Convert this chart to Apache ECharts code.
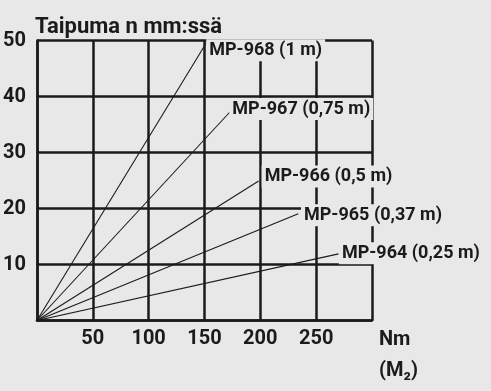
<!DOCTYPE html>
<html>
<head>
<meta charset="utf-8">
<script src="https://cdn.jsdelivr.net/npm/echarts@6/dist/echarts.min.js"></script>
<style>
html,body{margin:0;padding:0;background:#e8e8e9;}
#chart{width:491px;height:391px;}
</style>
</head>
<body>
<div id="chart"></div>
<script>
// Data
const seriesNames = ['MP-968 (1 m)', 'MP-967 (0,75 m)', 'MP-966 (0,5 m)', 'MP-965 (0,37 m)', 'MP-964 (0,25 m)'];
// end points (torque Nm, deflection mm), each line starts at origin
const endTorque = [152, 174, 198.5, 234, 270];
const endDeflection = [49.7, 37.5, 24.9, 19.05, 11.9];
const xTicks = [50, 100, 150, 200, 250];
const yTicks = [10, 20, 30, 40, 50];

const labelOffsets = [[-0.5, 8], [-2, -1.5], [3, -4.5], [2.7, 1.4], [0.4, -0.7]];

const BG = '#e8e8e9';
const INK = '#1b1b1b';
const FONT = 'Roboto';

const chart = echarts.init(document.getElementById('chart'), null, {renderer: 'canvas'});

const series = seriesNames.map((name, i) => ({
  type: 'line',
  name: name,
  symbol: 'circle',
  symbolSize: 0,
  showSymbol: true,
  silent: true,
  animation: false,
  lineStyle: {color: INK, width: 1.1},
  itemStyle: {color: INK},
  data: [
    [0, 0],
    {
      value: [endTorque[i], endDeflection[i]],
      label: {
        show: true,
        formatter: name,
        position: 'right',
        distance: 0,
        offset: labelOffsets[i],
        fontFamily: FONT,
        fontWeight: 'bold',
        fontSize: 18,
        color: INK,
        backgroundColor: BG,
        padding: [2, 3]
      }
    }
  ]
}));

const axisLineStyle = {color: INK, width: 2.5};

chart.setOption({
  backgroundColor: BG,
  animation: false,
  title: {
    text: 'Taipuma n mm:ssä',
    left: 30,
    top: 11,
    textStyle: {fontFamily: FONT, fontWeight: 'bold', fontSize: 22, color: INK}
  },
  grid: {left: 36, top: 40.5, width: 336, height: 280},
  xAxis: {
    type: 'value',
    min: 0, max: 300, interval: 50,
    axisLine: {show: true, lineStyle: axisLineStyle},
    axisTick: {show: false},
    splitLine: {show: true, lineStyle: axisLineStyle},
    axisLabel: {
      showMinLabel: false, showMaxLabel: false,
      formatter: v => (xTicks.indexOf(v) >= 0 ? String(v) : ''),
      fontFamily: FONT, fontWeight: 'bold', fontSize: 20, color: INK, margin: 8
    },
    name: 'Nm\n(M₂)',
    nameLocation: 'end',
    nameGap: 7,
    nameTextStyle: {
      fontFamily: FONT, fontWeight: 'bold', fontSize: 20, color: INK,
      align: 'left', verticalAlign: 'top', lineHeight: 31, padding: [4, 0, 0, 0]
    }
  },
  yAxis: {
    type: 'value',
    min: 0, max: 50, interval: 10,
    axisLine: {show: true, lineStyle: axisLineStyle},
    axisTick: {show: false},
    splitLine: {show: true, lineStyle: axisLineStyle},
    axisLabel: {
      showMinLabel: false,
      formatter: v => (yTicks.indexOf(v) >= 0 ? String(v) : ''),
      fontFamily: FONT, fontWeight: 'bold', fontSize: 20, color: INK, margin: 11,
      padding: [8, 0, 0, 0]
    }
  },
  series: series
});
</script>
</body>
</html>
